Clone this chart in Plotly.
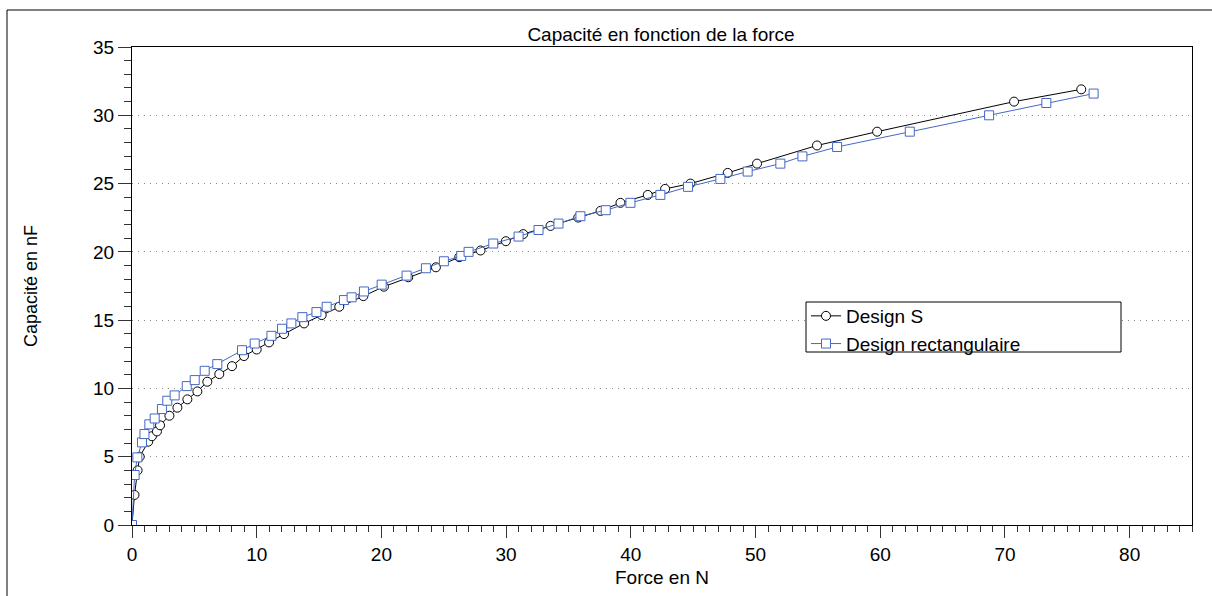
import plotly.graph_objects as go

# Design S (circles)
s_force = [0.0, 0.2, 0.45, 0.62, 1.3, 1.6, 2.0, 2.25, 3.0, 3.64, 4.44, 5.24, 6.04, 7.0, 8.02, 8.98,
           10.0, 10.99, 12.19, 13.8, 15.21, 16.62, 18.55, 20.2, 22.15, 24.37, 26.24, 27.95, 29.98,
           31.37, 33.56, 35.78, 37.57, 39.17, 41.36, 42.75, 44.78, 47.77, 50.12, 54.93, 59.75,
           70.73, 76.12]
s_cap = [0.0, 2.2, 4.0, 5.0, 6.1, 6.5, 6.85, 7.3, 8.0, 8.59, 9.2, 9.78, 10.49, 11.05, 11.63, 12.37,
         12.85, 13.37, 13.98, 14.76, 15.37, 15.98, 16.76, 17.45, 18.14, 18.87, 19.61, 20.1, 20.78,
         21.3, 21.9, 22.51, 23.0, 23.59, 24.17, 24.61, 25.0, 25.78, 26.46, 27.79, 28.8,
         31.0, 31.9]

# Design rectangulaire (squares)
r_force = [0.0, 0.21, 0.43, 0.8, 1.0, 1.39, 1.82, 2.4, 2.83, 3.42, 4.39, 5.03, 5.83, 6.84, 8.82,
           9.84, 11.18, 12.03, 12.78, 13.66, 14.79, 15.61, 17.0, 17.61, 18.6, 20.02, 22.02, 23.57,
           25.01, 26.4, 26.99, 28.97, 31.0, 32.6, 34.2, 35.96, 37.99, 39.97, 42.37, 44.59, 47.18,
           49.37, 51.99, 53.76, 56.54, 62.37, 68.73, 73.32, 77.11]
r_cap = [0.0, 3.66, 4.95, 6.05, 6.66, 7.37, 7.8, 8.49, 9.1, 9.49, 10.17, 10.61, 11.29, 11.78, 12.8,
         13.29, 13.85, 14.37, 14.76, 15.22, 15.59, 15.98, 16.47, 16.67, 17.1, 17.6, 18.26, 18.8,
         19.31, 19.7, 20.0, 20.61, 21.12, 21.6, 22.07, 22.61, 23.05, 23.59, 24.17, 24.76, 25.34,
         25.88, 26.46, 26.99, 27.68, 28.8, 30.0, 30.9, 31.59]

x_ticks = [0, 10, 20, 30, 40, 50, 60, 70, 80]
y_ticks = [0, 5, 10, 15, 20, 25, 30, 35]

FONT = "Liberation Sans, Arial, Helvetica, sans-serif"
BLUE = "#4468c4"

fig = go.Figure()
fig.add_trace(go.Scatter(
    x=s_force, y=s_cap, mode="lines+markers", name="Design S",
    line=dict(color="black", width=1),
    marker=dict(symbol="circle", size=9, color="white", line=dict(color="black", width=1)),
))
fig.add_trace(go.Scatter(
    x=r_force, y=r_cap, mode="lines+markers", name="Design rectangulaire",
    line=dict(color=BLUE, width=1),
    marker=dict(symbol="square", size=9, color="white", line=dict(color=BLUE, width=1)),
))

L, R, T, B = 132, 20, 47, 71
W, H = 1212, 596
pw, ph = W - L - R, H - T - B

def px_x(p):
    return (p - L) / pw

def px_y(p):
    return (H - B - p) / ph

fig.update_layout(
    width=W, height=H,
    margin=dict(l=L, r=R, t=T, b=B, autoexpand=False),
    paper_bgcolor="white", plot_bgcolor="white",
    font=dict(family=FONT, color="black", size=19),
    title=dict(text="Capacité en fonction de la force", x=px_x(661), xref="paper",
               y=1 - 34 / H, yref="container", yanchor="middle", xanchor="center",
               font=dict(size=19)),
    showlegend=True,
    legend=dict(x=px_x(806), y=px_y(297), xanchor="left", yanchor="top",
                borderwidth=0, bgcolor="rgba(0,0,0,0)",
                font=dict(size=19), itemwidth=30, tracegroupgap=0),
    xaxis=dict(range=[0, 85], tickvals=x_ticks, ticks="outside", ticklen=12, tickwidth=1,
               tickcolor="#333", showline=True, linecolor="black", linewidth=1, mirror=True,
               showgrid=False, zeroline=False,
               minor=dict(dtick=1, ticks="outside", ticklen=6, tickcolor="#333", showgrid=False),
               title=dict(text="Force en N", font=dict(size=19), standoff=6),
               automargin=False),
    yaxis=dict(range=[0, 35], tickvals=y_ticks, ticks="outside", ticklen=13, tickwidth=1,
               tickcolor="#333", showline=True, linecolor="black", linewidth=1, mirror=True,
               showgrid=True, gridcolor="#8c8c8c", griddash="1px,5px", gridwidth=1, zeroline=False,
               minor=dict(dtick=1, ticks="outside", ticklen=7, tickcolor="#333", showgrid=False),
               title=dict(text="Capacité en nF", font=dict(size=18), standoff=50),
               automargin=False),
    shapes=[
        dict(type="rect", xref="paper", yref="paper",
             x0=px_x(7), x1=px_x(1220), y0=px_y(10), y1=px_y(610),
             line=dict(color="black", width=1), fillcolor="rgba(0,0,0,0)", layer="below"),
        dict(type="rect", xref="paper", yref="paper",
             x0=px_x(806), x1=px_x(1121), y0=px_y(352), y1=px_y(302),
             line=dict(color="black", width=1), fillcolor="white", layer="above"),
    ],
)

fig.write_html("out.html")
